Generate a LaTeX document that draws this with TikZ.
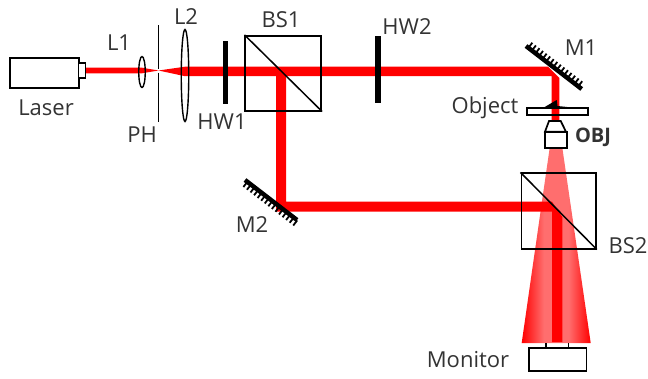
\documentclass[tikz,border=0pt]{standalone}
\usepackage{fontspec}
\setmainfont{Open Sans}
\usetikzlibrary{shapes.geometric}
\pgfdeclarehorizontalshading{conefade}{100bp}{color(0bp)=(red); color(25bp)=(red);
    color(41bp)=(red!57!white); color(59bp)=(red!57!white); color(75bp)=(red); color(100bp)=(red)}

\begin{document}
\begin{tikzpicture}[x=1pt, y=-1pt, semithick]
    \tikzstyle{label}=[inner sep=0pt, font=\fontsize{22}{22}\selectfont, text=black!80]
    \tikzstyle{part}=[draw=black, line width=1.7pt, fill=white]
    \tikzstyle{cube}=[draw=black, line width=1.7pt]
    \tikzstyle{plate}=[fill=black]
    \tikzstyle{lens}=[ellipse, draw=black, line width=1.4pt, inner sep=0pt]
    \tikzstyle{beam}=[fill=red]
    \tikzstyle{hatch}=[draw=black, line width=1.8pt]
    \useasboundingbox (0,0) rectangle (648,378);

    % cone
    \path[shading=conefade]
        (549.5,149) -- (562.5,149) -- (590.7,343) -- (521.7,343) -- cycle;

    % beam
    \coordinate (F)  at (158.5,70.5);
    \path[beam] (85,67.7) -- (142,67.7) -- (F) -- (142,73.3) -- (85,73.3) -- cycle;
    \path[beam] (F) -- (185,66.7) -- (548,66.7) -- (559.3,78) -- (559.3,120)
        -- (551.7,120) -- (551.7,76.2) -- (286,76.2) -- (286,201.7) -- (552,201.7)
        -- (562.3,217) -- (562.3,342) -- (552,342) -- (552,211.7) -- (276,211.7)
        -- (276,76.2) -- (185,76.2) -- cycle;

    % laser
    \node[part, minimum width=69pt, minimum height=30pt, inner sep=0pt] (laser) at (44.5,73) {};
    \node[part, minimum width=7pt, minimum height=15pt, inner sep=0pt] (head) at (82,70.5) {};
    \node[label] (lLaser) at (46,108) {Laser};

    % lenses and pinhole
    \node[lens, minimum width=6.5pt, minimum height=31pt] (L1) at (142,72) {};
    \node[lens, minimum width=7.5pt, minimum height=92pt] (L2) at (185,75.5) {};
    \coordinate (PHa) at (158.5,25);
    \coordinate (PHb) at (158.5,68.5);
    \coordinate (PHc) at (158.5,72.5);
    \coordinate (PHd) at (158.5,122);
    \draw[line width=1.4pt] (PHa) -- (PHb);
    \draw[line width=1.4pt] (PHc) -- (PHd);
    \node[label] (lL1) at (119,43) {L1};
    \node[label] (lL2) at (186,17) {L2};
    \node[label] (lPH) at (142,135) {PH};

    % wave plates
    \node[plate, minimum width=5.5pt, minimum height=63pt, inner sep=0pt] (HW1) at (225.6,72) {};
    \node[plate, minimum width=5.5pt, minimum height=67pt, inner sep=0pt] (HW2) at (378,69.5) {};
    \node[label] (lHW1) at (222,122) {HW1};
    \node[label] (lHW2) at (407,27) {HW2};

    % beam splitters
    \node[cube, minimum width=76pt, minimum height=75pt, inner sep=0pt] (BS1) at (283.3,73.2) {};
    \draw[line width=1.5pt] (BS1.north west) -- (BS1.south east);
    \node[cube, minimum width=74.7pt, minimum height=75.4pt, inner sep=0pt] (BS2) at (558.7,211) {};
    \draw[line width=1.5pt] (BS2.north west) -- (BS2.south east);
    \node[label] (lBS1) at (281,20) {BS1};
    \node[label] (lBS2) at (628,246) {BS2};

    % mirrors
    \coordinate (M1a) at (526,46);
    \coordinate (M1b) at (581.7,89);
    \draw[line width=4.5pt] (M1a) -- (M1b);
    \begin{scope}[shift={(526,46)}, rotate=-37.7]
        \foreach \i in {3,7.5,...,70}
            \draw[hatch] (\i,0) -- (\i,-6.5);
    \end{scope}
    \coordinate (M2a) at (245,180);
    \coordinate (M2b) at (297,220);
    \draw[line width=4.5pt] (M2a) -- (M2b);
    \begin{scope}[shift={(245,180)}, rotate=-37.7]
        \foreach \i in {3,7.5,...,66}
            \draw[hatch] (\i,0) -- (\i,6.5);
    \end{scope}
    \node[label] (lM1) at (581,48) {M1};
    \node[label] (lM2) at (252,225) {M2};

    % object and objective
    \node[part, minimum width=61pt, minimum height=7.3pt, inner sep=0pt, fill=none] (plate) at (557.2,111.3) {};
    \path[fill=black] (543,108) -- (556.7,100) -- (557.5,106) -- (577,108) -- cycle;
    \draw[part] (549,121) -- (560.7,121) -- (566,131.7) -- (545,131.7) -- cycle;
    \node[part, minimum width=22pt, minimum height=16.6pt, inner sep=0pt] (OBJ) at (556,140) {};
    \node[label] (lObject) at (485,108) {Object};
    \node[label, font=\fontsize{20}{20}\selectfont\bfseries, text=black!80] (lOBJ) at (593,137) {OBJ};

    % monitor
    \node[part, minimum width=57.3pt, minimum height=23.6pt, inner sep=0pt] (monitor) at (557.7,359.5) {};
    \coordinate (S1) at (546,343);
    \coordinate (S2) at (568.7,343);
    \draw[line width=1.4pt] (S1) -- (S1 |- monitor.north);
    \draw[line width=1.4pt] (S2) -- (S2 |- monitor.north);
    \node[label] (lMonitor) at (468,360) {Monitor};
\end{tikzpicture}
\end{document}
